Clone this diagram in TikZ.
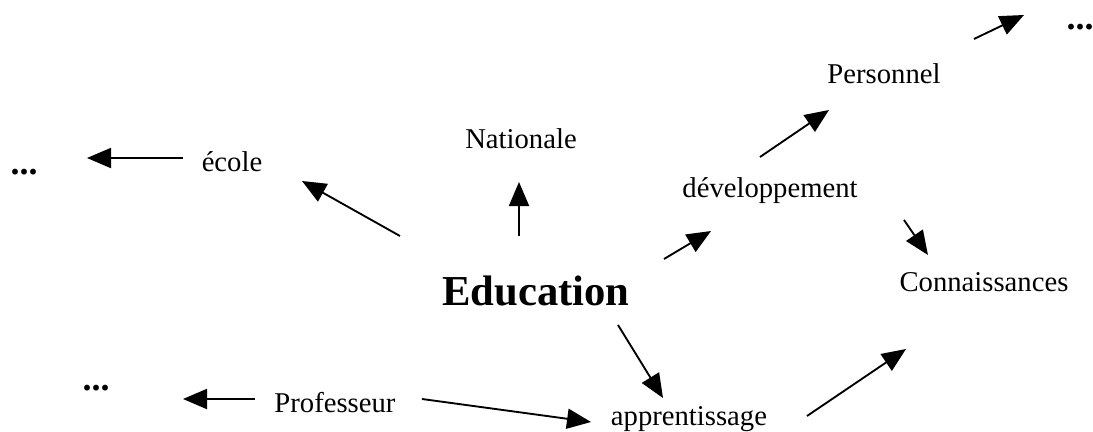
\documentclass[tikz,border=0pt]{standalone}
\usepackage{fontspec}
\setmainfont{Liberation Serif}
\usetikzlibrary{arrows.meta}
\begin{document}
\begin{tikzpicture}[x=0.75pt,y=-0.75pt,
  lbl/.style={anchor=base,inner sep=0pt,font=\fontsize{21.5}{24}\selectfont},
  big/.style={anchor=base,inner sep=0pt,font=\fontsize{32}{36}\selectfont\bfseries},
  dots/.style={anchor=base,inner sep=0pt,font=\fontsize{27}{30}\selectfont\bfseries},
  arr/.style={line width=1.4pt,-{Triangle[length=18pt,width=15pt]}}]
\useasboundingbox (0,0) rectangle (1093,432);
% texts
\node[big] (edu) at (536,305) {Education};
\node[lbl] (ecole) at (232,171) {école};
\node[lbl] (nat) at (521,148) {Nationale};
\node[lbl] (dev) at (770,197) {développement};
\node[lbl] (pers) at (884,83) {Personnel};
\node[lbl] (conn) at (984,291) {Connaissances};
\node[lbl] (prof) at (335,412) {Professeur};
\node[lbl] (app) at (689,425) {apprentissage};
\node[dots] (d1) at (24,174) {...};
\node[dots] (d2) at (96,390) {...};
\node[dots] (d3) at (1080,29) {...};
% arrow end points
\coordinate (a1s) at (183,158); \coordinate (a1e) at (87,158);
\coordinate (a2s) at (400,236); \coordinate (a2e) at (302,181);
\coordinate (a3s) at (519,236); \coordinate (a3e) at (519,182);
\coordinate (a4s) at (664,259); \coordinate (a4e) at (711,231);
\coordinate (a5s) at (760,157); \coordinate (a5e) at (829,110);
\coordinate (a6s) at (974,39); \coordinate (a6e) at (1024,15);
\coordinate (a7s) at (904,220); \coordinate (a7e) at (928,255);
\coordinate (a8s) at (618,325); \coordinate (a8e) at (663,398);
\coordinate (a9s) at (422,399); \coordinate (a9e) at (591,422);
\coordinate (a10s) at (807,416); \coordinate (a10e) at (906,349);
\coordinate (a11s) at (255,399); \coordinate (a11e) at (183,399);
% arrows
\draw[arr] (a1s) -- (a1e);
\draw[arr] (a2s) -- (a2e);
\draw[arr] (a3s) -- (a3e);
\draw[arr] (a4s) -- (a4e);
\draw[arr] (a5s) -- (a5e);
\draw[arr] (a6s) -- (a6e);
\draw[arr] (a7s) -- (a7e);
\draw[arr] (a8s) -- (a8e);
\draw[arr] (a9s) -- (a9e);
\draw[arr] (a10s) -- (a10e);
\draw[arr] (a11s) -- (a11e);
\end{tikzpicture}
\end{document}
